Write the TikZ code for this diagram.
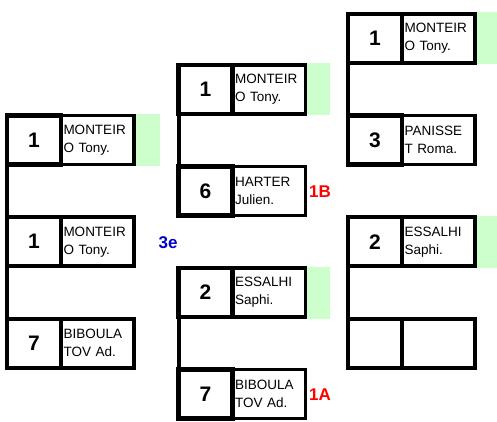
\documentclass[tikz,border=0pt]{standalone}
\usepackage{fontspec}
\setmainfont{Liberation Sans}
\definecolor{wingreen}{HTML}{CCFFCC}
\definecolor{lblblue}{HTML}{0000CC}
\definecolor{lblred}{HTML}{FF0000}
\tikzset{
  seedbox/.style={draw, line width=4.5pt, minimum width=54pt, minimum height=49pt,
    inner sep=0pt, outer sep=0pt, anchor=north west, font=\bfseries\fontsize{21}{21}\selectfont},
  seedthin/.style={seedbox, line width=3.5pt},
  namebox/.style={draw, line width=3.5pt, minimum width=73pt, minimum height=49pt,
    inner sep=0pt, outer sep=0pt, anchor=north west, text width=68pt, align=left,
    font=\fontsize{13.5}{18}\selectfont},
  winmark/.style={fill=wingreen, minimum width=24pt, minimum height=52pt,
    inner sep=0pt, outer sep=0pt, anchor=north west},
  bracket/.style={line width=4pt},
  rlabel/.style={font=\bfseries\fontsize{17}{17}\selectfont, text=lblred},
  blabel/.style={font=\bfseries\fontsize{17}{17}\selectfont, text=lblblue}
}
\begin{document}
\begin{tikzpicture}[x=1pt,y=-1pt]
\useasboundingbox (0,0) rectangle (497,422);
% column 1 (x=7)
\node[winmark] (g1a) at (136,114.1) {};
\node[namebox] (n1a) at (61,115.6) {MONTEIR\\O Tony.};
\node[namebox] (n1b) at (61,217.2) {MONTEIR\\O Tony.};
\node[namebox] (n1c) at (61,318.8) {BIBOULA\\TOV Ad.};
\coordinate (b1top) at (7,115.6);
\coordinate (b1bot) at (7,318.8);
\draw[bracket] (b1top) -- (b1bot);
\node[seedbox] (s1a) at (b1top) {1};
\node[seedthin] (s1b) at (7,217.2) {1};
\node[seedbox] (s1c) at (b1bot) {7};
\node[blabel] (l3e) at (168,243) {3e};
% column 2 (x=178.5)
\node[winmark] (g2a) at (306,63.3) {};
\node[winmark] (g2c) at (306,266.5) {};
\node[namebox] (n2a) at (232.5,64.8) {MONTEIR\\O Tony.};
\node[namebox] (n2b) at (232.5,166.4) {HARTER\\Julien.};
\node[namebox] (n2c) at (232.5,268) {ESSALHI\\Saphi.};
\node[namebox] (n2d) at (232.5,369.6) {BIBOULA\\TOV Ad.};
\node[seedbox] (s2a) at (178.5,64.8) {1};
\node[seedbox] (s2b) at (178.5,166.4) {6};
\node[seedbox] (s2c) at (178.5,268) {2};
\node[seedbox] (s2d) at (178.5,369.6) {7};
\draw[bracket] (s2a.south west) -- (s2b.north west);
\draw[bracket] (s2c.south west) -- (s2d.north west);
\node[rlabel] (l1b) at (320,192) {1B};
\node[rlabel] (l1a) at (320,395) {1A};
% column 3 (x=348)
\node[winmark] (g3a) at (476,12.5) {};
\node[winmark] (g3c) at (476,215.7) {};
\node[namebox] (n3a) at (402,14) {MONTEIR\\O Tony.};
\node[namebox] (n3b) at (402,115.6) {PANISSE\\T Roma.};
\node[namebox] (n3c) at (402,217.2) {ESSALHI\\Saphi.};
\node[namebox] (n3d) at (402,318.8) {};
\node[seedbox] (s3a) at (348,14) {1};
\node[seedbox] (s3b) at (348,115.6) {3};
\node[seedbox] (s3c) at (348,217.2) {2};
\node[seedbox] (s3d) at (348,318.8) {};
\draw[bracket] (s3a.south west) -- (s3b.north west);
\draw[bracket] (s3c.south west) -- (s3d.north west);
\end{tikzpicture}
\end{document}
